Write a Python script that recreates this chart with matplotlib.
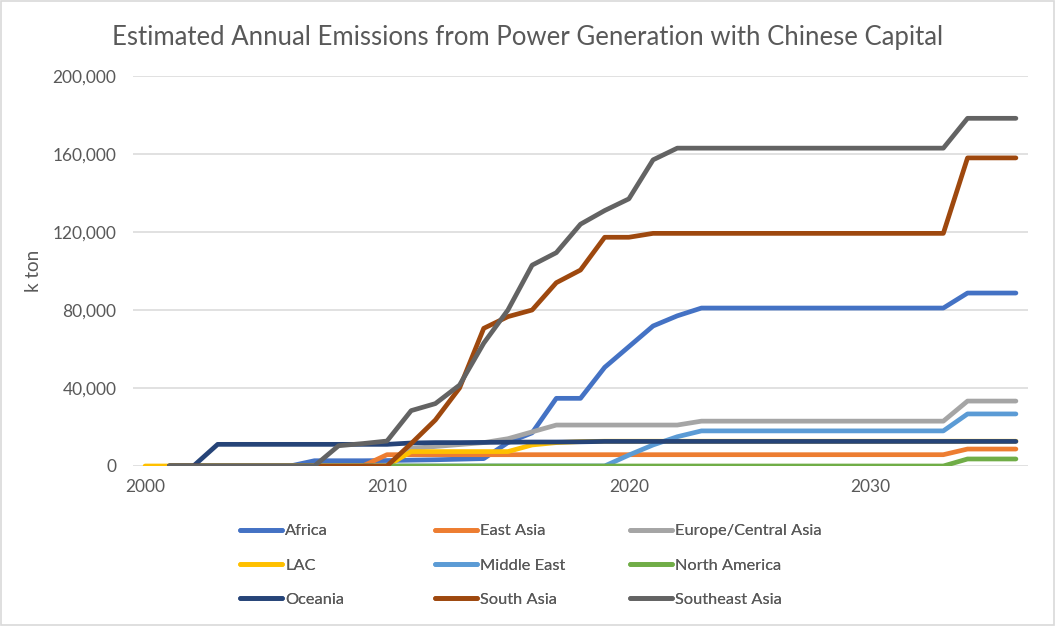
import numpy as np
import matplotlib
matplotlib.use('Agg')
import matplotlib.pyplot as plt
from matplotlib.patches import Rectangle

plt.rcParams['font.family'] = ['Lato', 'DejaVu Sans']

N = np.nan
years = list(range(2000, 2037))

# values in k ton, one row per decade (2000-2009, 2010-2019, 2020-2029, 2030-2036)
africa = [N, 0, 0, 0, 0, 0, 0, 2700, 2700, 2700,
          2800, 3000, 3200, 3500, 3800, 12000, 17000, 34700, 34700, 50600,
          61200, 71800, 77000, 81000, 81000, 81000, 81000, 81000, 81000, 81000,
          81000, 81000, 81000, 81000, 88700, 88700, 88700]
east_asia = [N, 0, 0, 0, 0, 0, 0, 0, 0, 0,
             5800, 5800, 5800, 5800, 5800, 5800, 5800, 5800, 5800, 5800,
             5800, 5800, 5800, 5800, 5800, 5800, 5800, 5800, 5800, 5800,
             5800, 5800, 5800, 5800, 8700, 8700, 8700]
europe_central_asia = [N, 0, 0, 0, 0, 0, 0, 0, 0, 0,
                       0, 9000, 10000, 11000, 12000, 14000, 17500, 21000, 21000, 21000,
                       21000, 21000, 21000, 23000, 23000, 23000, 23000, 23000, 23000, 23000,
                       23000, 23000, 23000, 23000, 33300, 33300, 33300]
lac = [0, 0, 0, 0, 0, 0, 0, 0, 0, 0,
       0, 7400, 7400, 7400, 7400, 7400, 10800, 12000, 12500, 12700,
       12700, 12700, 12700, 12700, 12700, 12700, 12700, 12700, 12700, 12700,
       12700, 12700, 12700, 12700, 12700, 12700, 12700]
middle_east = [N, 0, 0, 0, 0, 0, 0, 0, 0, 0,
               0, 0, 0, 0, 0, 0, 0, 0, 0, 0,
               5600, 10800, 15000, 18000, 18000, 18000, 18000, 18000, 18000, 18000,
               18000, 18000, 18000, 18000, 26700, 26700, 26700]
north_america = [N, 0, 0, 0, 0, 0, 0, 0, 0, 0,
                 0, 0, 0, 0, 0, 0, 0, 0, 0, 0,
                 0, 0, 0, 0, 0, 0, 0, 0, 0, 0,
                 0, 0, 0, 0, 3600, 3600, 3600]
oceania = [N, 0, 0, 11100, 11100, 11100, 11100, 11100, 11100, 11100,
           11100, 11800, 12000, 12000, 12100, 12200, 12300, 12300, 12400, 12600,
           12600, 12600, 12600, 12600, 12600, 12600, 12600, 12600, 12600, 12600,
           12600, 12600, 12600, 12600, 12600, 12600, 12600]
south_asia = [N, 0, 0, 0, 0, 0, 0, 0, 0, 0,
              0, 11500, 23600, 40000, 70600, 76600, 80000, 94000, 100500, 117300,
              117300, 119300, 119300, 119300, 119300, 119300, 119300, 119300, 119300, 119300,
              119300, 119300, 119300, 119300, 158000, 158000, 158000]
southeast_asia = [N, 0, 0, 0, 0, 0, 0, 0, 10400, 11500,
                  12800, 28400, 32000, 41500, 63000, 80000, 103000, 109400, 124000, 131000,
                  137000, 157000, 163000, 163000, 163000, 163000, 163000, 163000, 163000, 163000,
                  163000, 163000, 163000, 163000, 178300, 178300, 178300]

names = ['Africa', 'East Asia', 'Europe/Central Asia', 'LAC', 'Middle East',
         'North America', 'Oceania', 'South Asia', 'Southeast Asia']
series = [africa, east_asia, europe_central_asia, lac, middle_east,
          north_america, oceania, south_asia, southeast_asia]
colors = ['#4472C4', '#ED7D31', '#A5A5A5', '#FFC000', '#5B9BD5',
          '#70AD47', '#264478', '#9E480E', '#636363']

text_color = '#595959'

fig = plt.figure(figsize=(10.56, 6.26), dpi=100)
ax = fig.add_axes([133 / 1056, 1 - 466 / 626, 895 / 1056, 390 / 626])

handles = []
for name, vals, c in zip(names, series, colors):
    h, = ax.plot(years, vals, color=c, lw=3.4, label=name,
                 solid_capstyle='round', solid_joinstyle='round')
    handles.append(h)

ax.set_xlim(1999.5, 2036.5)
ax.set_ylim(0, 200000)
ax.set_yticks(range(0, 200001, 40000))
ax.set_yticklabels([f'{v:,}' for v in range(0, 200001, 40000)])
ax.set_xticks([2000, 2010, 2020, 2030])
ax.grid(axis='y', color='#D9D9D9', lw=1.1)
ax.set_axisbelow(True)
for s in ax.spines.values():
    s.set_visible(False)
ax.tick_params(axis='both', length=0, labelsize=12.5, colors=text_color)
ax.tick_params(axis='y', pad=12)
ax.tick_params(axis='x', pad=9)

ax.set_ylabel('k ton', fontsize=13.5, color=text_color)
ax.yaxis.set_label_coords(-0.102, 0.5)

fig.text(0.5, 1 - 37 / 626, 'Estimated Annual Emissions from Power Generation with Chinese Capital',
         ha='center', va='center', fontsize=18.5, color=text_color)

# legend: three columns, row-major like the original
col_x = [240 / 1056, 435 / 1056, 630 / 1056]
for i in range(3):
    hs = handles[i::3]
    leg = fig.legend(hs, [h.get_label() for h in hs], loc='upper left',
                     bbox_to_anchor=(col_x[i], 1 - 524 / 626), frameon=False,
                     fontsize=11.8, borderpad=0, borderaxespad=0,
                     handlelength=2.55, handletextpad=0.2, labelspacing=1.2)
    for t in leg.get_texts():
        t.set_color(text_color)
    fig.add_artist(leg)

fig.patches.append(Rectangle((0.001, 0.001), 0.997, 0.997, transform=fig.transFigure,
                             fill=False, edgecolor='#D9D9D9', lw=1.2))

fig.savefig('out.png', dpi=100)
